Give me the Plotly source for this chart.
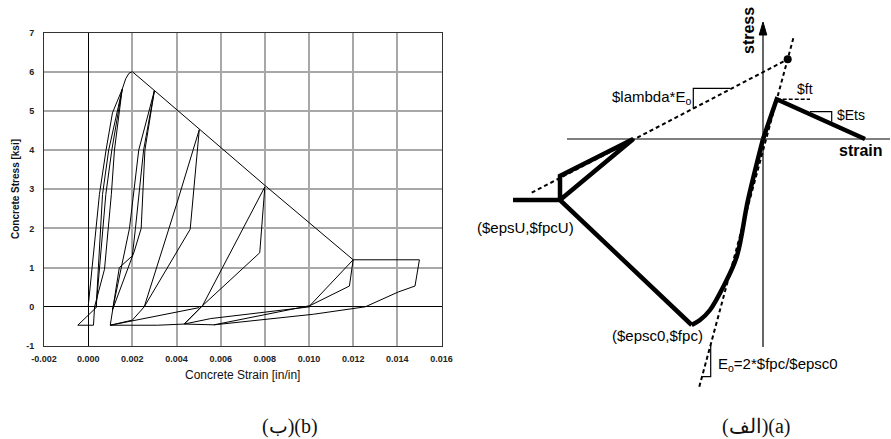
import plotly.graph_objects as go

W, H = 891, 439

# ---------------- left panel (b): cyclic stress-strain data ----------------
x_ticks = [-0.002, 0.0, 0.002, 0.004, 0.006, 0.008, 0.010, 0.012, 0.014, 0.016]
x_tick_labels = ["-0.002", "0.000", "0.002", "0.004", "0.006", "0.008", "0.010", "0.012", "0.014", "0.016"]
y_ticks = [-1, 0, 1, 2, 3, 4, 5, 6, 7]
y_tick_labels = ["-1", "0", "1", "2", "3", "4", "5", "6", "7"]

env_strain = [0.0, 0.00017, 0.00051, 0.00081, 0.0011, 0.00154, 0.0017, 0.00185, 0.002,
              0.003, 0.005, 0.008, 0.012, 0.015, 0.0148, 0.01405, 0.01255]
env_stress = [0.0, 1.0, 2.87, 4.0, 4.95, 5.55, 5.82, 5.96, 6.0,
              5.52, 4.55, 3.1, 1.2, 1.2, 0.53, 0.38, 0.0]

c1_strain = [0.00154, 0.00119, 0.00105, 0.00074, 0.00029, 0.00024, -0.00047, 0.00036, 0.00065, 0.00093, 0.00154]
c1_stress = [5.55, 4.0, 2.87, 0.96, 0.0, -0.47, -0.47, -0.02, 2.87, 4.0, 5.55]
c1b_strain = [0.00154, 0.00107, 0.0008, 0.00051, 0.00036]
c1b_stress = [5.55, 4.0, 2.87, 1.0, -0.02]

c2_strain = [0.003, 0.00257, 0.0024, 0.00209, 0.0011, 0.00187, 0.00229, 0.003]
c2_stress = [5.52, 4.0, 2.0, 1.42, -0.08, 2.0, 4.0, 5.52]
c2b_strain = [0.003, 0.00251, 0.00214, 0.0020, 0.00141, 0.0011, 0.001]
c2b_stress = [5.52, 4.0, 2.0, 1.3, 1.0, -0.1, -0.47]

c3_strain = [0.00503, 0.00473, 0.00462, 0.00254, 0.002, 0.001]
c3_stress = [4.52, 2.7, 1.98, 0.0, -0.34, -0.47]
c3r_strain = [0.00254, 0.00405, 0.00503]
c3r_stress = [0.0, 2.7, 4.52]

c4_strain = [0.008, 0.00777, 0.00518, 0.00435]
c4_stress = [3.06, 1.38, 0.03, -0.44]
c4r_strain = [0.00435, 0.00518, 0.008]
c4r_stress = [-0.44, 0.03, 3.06]

c5_strain = [0.012, 0.01183, 0.01004, 0.0057]
c5_stress = [1.2, 0.53, 0.03, -0.46]
c5r_strain = [0.01004, 0.012]
c5r_stress = [0.03, 1.2]

b1_strain = [0.001, 0.00503]
b1_stress = [-0.47, -0.02]
b2_strain = [0.001, 0.00315, 0.00435, 0.0057]
b2_stress = [-0.47, -0.47, -0.44, -0.46]
b3_strain = [0.00435, 0.00555, 0.01004]
b3_stress = [-0.44, -0.3, 0.0]
b4_strain = [0.0057, 0.0102, 0.01255]
b4_stress = [-0.46, -0.19, 0.0]

left_series = [
    (env_strain, env_stress), (c1_strain, c1_stress), (c1b_strain, c1b_stress),
    (c2_strain, c2_stress), (c2b_strain, c2b_stress),
    (c3_strain, c3_stress), (c3r_strain, c3r_stress),
    (c4_strain, c4_stress), (c4r_strain, c4r_stress),
    (c5_strain, c5_stress), (c5r_strain, c5r_stress),
    (b1_strain, b1_stress), (b2_strain, b2_stress), (b3_strain, b3_stress), (b4_strain, b4_stress),
]

# ---------------- right panel (a): schematic (origin at axes crossing) ----------------
h_axis_x = [-196, 127]
h_axis_y = [0, 0]
v_axis_x = [0, 0]
v_axis_y = [-208, 107]
arrow_x = [-3.8, 0, 3.8, -3.8]
arrow_y = [104, 117, 104, 104]

steep_dash_x = [-63.7, 30.3]
steep_dash_y = [-247.7, 100.7]
shallow_dash_x = [-231.3, 24.7]
shallow_dash_y = [-53.7, 79.7]
dot_x = [24.7]
dot_y = [79.7]

tension_x = [0, 13.7, 102]
tension_y = [0, 39.7, 0]
comp_x = [0, -15, -26.3, -39.7, -53, -63, -71.3, -203, -250]
comp_y = [0, -61, -117.7, -147.7, -171, -181, -186, -61, -61]
tri_x = [-203, -203, -129.7, -203]
tri_y = [-61, -37, 0, -61]

lam_mark_x = [-69.7, -69.7, -33]
lam_mark_y = [30.5, 50.7, 50.7]
ft_dash_x = [13.7, 47]
ft_dash_y = [39.7, 39.7]
ets_mark_x = [47, 68.7, 68.7]
ets_mark_y = [27.3, 27.3, 17.3]
eo_mark_x = [-61.3, -52.3, -52.3]
eo_mark_y = [-237.7, -237.7, -206]

fig = go.Figure()

for sx, sy in left_series:
    fig.add_trace(go.Scatter(x=sx, y=sy, mode="lines", line=dict(color="black", width=1),
                             xaxis="x", yaxis="y", hoverinfo="skip", showlegend=False))

def sch(xs, ys, width=1, dash=None, color="black", shape="linear"):
    fig.add_trace(go.Scatter(x=xs, y=ys, mode="lines",
                             line=dict(color=color, width=width, dash=dash, shape=shape),
                             xaxis="x2", yaxis="y2", hoverinfo="skip", showlegend=False))

sch(h_axis_x, h_axis_y, 1.2)
sch(v_axis_x, v_axis_y, 1.2)
fig.add_trace(go.Scatter(x=arrow_x, y=arrow_y, mode="lines", fill="toself", fillcolor="black",
                         line=dict(color="black", width=1), xaxis="x2", yaxis="y2",
                         hoverinfo="skip", showlegend=False))
sch(steep_dash_x, steep_dash_y, 2, "4px,3px")
sch(shallow_dash_x, shallow_dash_y, 2, "4px,3px")
sch(ft_dash_x, ft_dash_y, 1.5, "4px,2px")
sch(tension_x, tension_y, 4.5)
sch(comp_x[:7], comp_y[:7], 4.5, shape="spline")
sch(comp_x[6:], comp_y[6:], 4.5)
sch(tri_x, tri_y, 4.5)
sch(lam_mark_x, lam_mark_y, 1.2)
sch(ets_mark_x, ets_mark_y, 1.2)
sch(eo_mark_x, eo_mark_y, 1.2)
fig.add_trace(go.Scatter(x=dot_x, y=dot_y, mode="markers", marker=dict(color="black", size=8),
                         xaxis="x2", yaxis="y2", hoverinfo="skip", showlegend=False))

sans = "Liberation Sans, Arial, sans-serif"
tick_font = dict(family=sans, size=9, color="#222")

fig.update_layout(
    template="none",
    width=W, height=H,
    margin=dict(l=0, r=0, t=0, b=0, pad=0, autoexpand=False),
    paper_bgcolor="white", plot_bgcolor="rgba(0,0,0,0)",
    showlegend=False,
    xaxis=dict(domain=[44 / W, 441.5 / W], range=[-0.002, 0.016], tickvals=x_ticks,
               ticktext=["<b>%s</b>" % t for t in x_tick_labels], showgrid=True, gridcolor="#a8a8a8", gridwidth=1.5,
               zeroline=True, zerolinecolor="black", zerolinewidth=1,
               showline=True, mirror=True, linecolor="#333", linewidth=1, automargin=False,
               tickfont=tick_font, ticks="", ticklabelstandoff=4, anchor="y"),
    yaxis=dict(domain=[(H - 346) / H, (H - 32.5) / H], range=[-1, 7], tickvals=y_ticks,
               ticktext=["<b>%s</b>" % t for t in y_tick_labels],
               showgrid=True, gridcolor="#a8a8a8", gridwidth=1.5,
               zeroline=True, zerolinecolor="black", zerolinewidth=1,
               showline=True, mirror=True, linecolor="#333", linewidth=1, automargin=False,
               tickfont=tick_font, ticks="", ticklabelstandoff=7, anchor="x"),
    xaxis2=dict(domain=[0, 1], range=[-763, W - 763], visible=False, anchor="y2", automargin=False),
    yaxis2=dict(domain=[0, 1], range=[139 - H, 139], visible=False, anchor="x2", automargin=False),
)

ann = []
def pa(text, px, py, size, family, angle=0):
    ann.append(dict(text=text, x=px / W, y=1 - py / H, xref="paper", yref="paper",
                    xanchor="center", yanchor="middle", textangle=angle, showarrow=False,
                    font=dict(family=family, size=size, color="#111")))

serif = "Liberation Serif, Times New Roman, serif"
pa("<b>Concrete Stress [ksi]</b>", 15, 189, 10, sans, -90)
pa("Concrete Strain [in/in]", 243, 375, 12, sans)
pa("(ب)(b)", 290, 426, 20, serif)
pa("(الف)(a)", 756, 426, 20, serif)

def sa(text, x, y, size=14, xanchor="center", bold=False, angle=0):
    ann.append(dict(text=("<b>%s</b>" % text) if bold else text, x=x, y=y, xref="x2", yref="y2",
                    showarrow=False, xanchor=xanchor, yanchor="middle", textangle=angle,
                    font=dict(family=sans, size=size, color="black")))

sa("stress", -15, 108, 16, bold=True, angle=-90)
sa("strain", 98, -11, 16, bold=True)
sa("$lambda*E<sub>o</sub>", -70, 42, 15, xanchor="right")
sa("$ft", 32, 50, 14, xanchor="left")
sa("$Ets", 72, 24, 14, xanchor="left")
sa("($epsU,$fpcU)", -238, -88, 15)
sa("($epsc0,$fpc)", -106, -196, 15)
sa("E<sub>o</sub>=2*$fpc/$epsc0", -47, -225, 15, xanchor="left")

fig.update_layout(annotations=ann)
fig.write_html("out.html")
